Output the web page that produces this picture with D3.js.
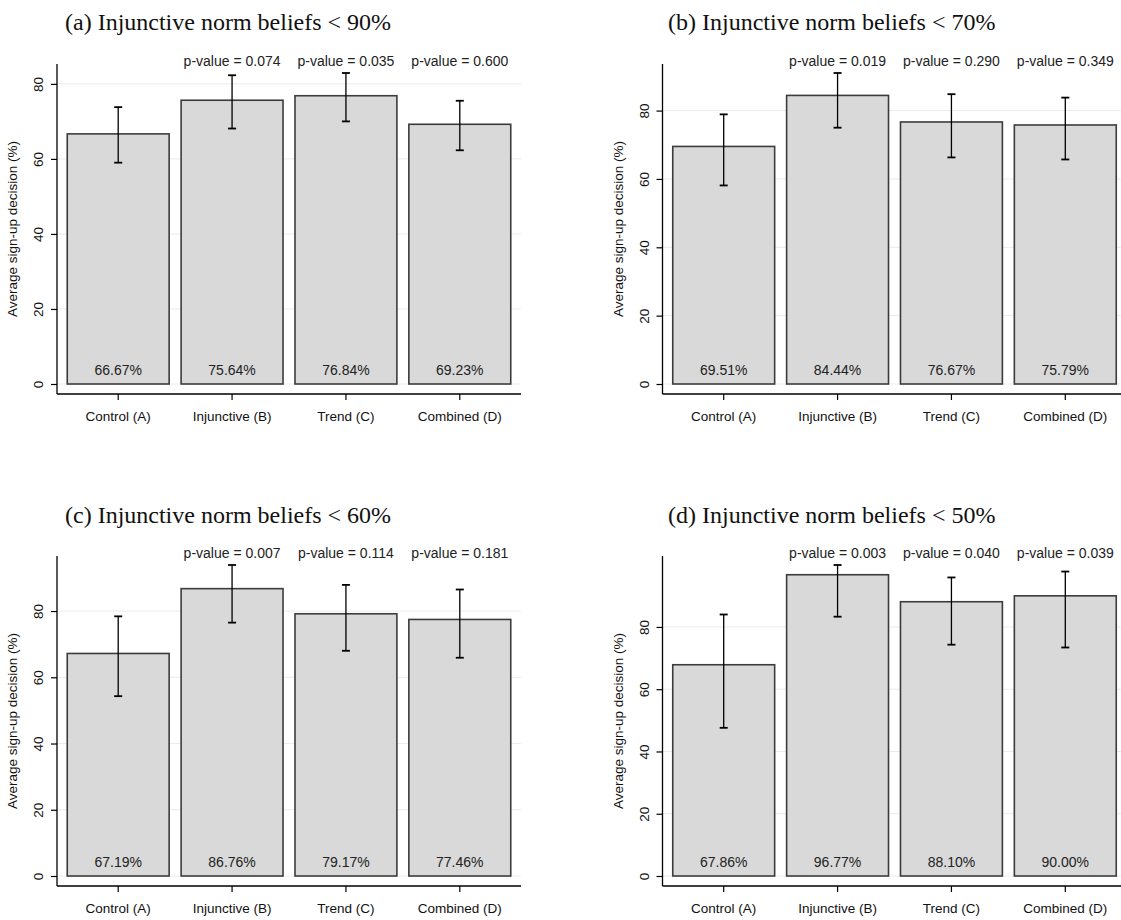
<!DOCTYPE html>
<html><head><meta charset="utf-8">
<script src="https://cdn.jsdelivr.net/npm/d3@7"></script>
<style>body{margin:0;background:#fff}svg{display:block}</style>
</head><body>
<svg id="chart" width="1121" height="920"></svg>
<script>
// ---- data ----
const categories = ["Control (A)", "Injunctive (B)", "Trend (C)", "Combined (D)"];
const panelTitles = [
  "(a) Injunctive norm beliefs < 90%",
  "(b) Injunctive norm beliefs < 70%",
  "(c) Injunctive norm beliefs < 60%",
  "(d) Injunctive norm beliefs < 50%"
];
const yTicks = [0, 20, 40, 60, 80];
const yTitle = "Average sign-up decision (%)";

const meansA = [66.67, 75.64, 76.84, 69.23];
const lowA   = [59.0, 68.1, 70.0, 62.3];
const highA  = [73.8, 82.3, 82.9, 75.5];
const pvalsA = [null, "0.074", "0.035", "0.600"];

const meansB = [69.51, 84.44, 76.67, 75.79];
const lowB   = [58.1, 75.0, 66.3, 65.7];
const highB  = [78.9, 91.0, 84.8, 83.8];
const pvalsB = [null, "0.019", "0.290", "0.349"];

const meansC = [67.19, 86.76, 79.17, 77.46];
const lowC   = [54.3, 76.5, 68.0, 65.9];
const highC  = [78.4, 93.9, 87.9, 86.5];
const pvalsC = [null, "0.007", "0.114", "0.181"];

const meansD = [67.86, 96.77, 88.10, 90.00];
const lowD   = [47.6, 83.3, 74.3, 73.4];
const highD  = [84.0, 99.9, 95.9, 97.8];
const pvalsD = [null, "0.003", "0.040", "0.039"];

// ---- layout ----
const panels = [
  {means: meansA, low: lowA, high: highA, pvals: pvalsA, title: panelTitles[0], x0: 57,    zeroY: 384, titleX: 65,  titleY: 30},
  {means: meansB, low: lowB, high: highB, pvals: pvalsB, title: panelTitles[1], x0: 662.5, zeroY: 384, titleX: 668, titleY: 30},
  {means: meansC, low: lowC, high: highC, pvals: pvalsC, title: panelTitles[2], x0: 57,    zeroY: 876, titleX: 65,  titleY: 523},
  {means: meansD, low: lowD, high: highD, pvals: pvalsD, title: panelTitles[3], x0: 662.5, zeroY: 876, titleX: 668, titleY: 523}
];
const plotW = 464, dataH = 311, topPad = 9, botPad = 10;
const sans = "'Liberation Sans', Arial, Helvetica, sans-serif";
const serif = "'Liberation Serif', 'Times New Roman', serif";

const svg = d3.select("#chart");

panels.forEach(p => {
  const g = svg.append("g");
  const maxHi = d3.max(p.high);
  const y = d3.scaleLinear().domain([0, maxHi]).range([p.zeroY, p.zeroY - dataH]);
  const x = d3.scaleBand().domain(categories).range([p.x0, p.x0 + plotW])
              .paddingInner(0.105).paddingOuter(0.09);
  const plotTop = p.zeroY - dataH - topPad;
  const axisY = p.zeroY + botPad;
  const rows = categories.map((c, i) => ({c, m: p.means[i], lo: p.low[i], hi: p.high[i], pv: p.pvals[i]}));

  // title
  g.append("text").attr("x", p.titleX).attr("y", p.titleY)
    .attr("font-family", serif).attr("font-size", 24).attr("fill", "#111")
    .text(p.title);

  // gridlines
  g.selectAll("line.grid").data(yTicks).join("line")
    .attr("x1", p.x0).attr("x2", p.x0 + plotW)
    .attr("y1", d => y(d)).attr("y2", d => y(d))
    .attr("stroke", "#ebebeb").attr("stroke-width", 1);

  // bars
  g.selectAll("rect.bar").data(rows).join("rect")
    .attr("x", d => x(d.c)).attr("width", x.bandwidth())
    .attr("y", d => y(d.m)).attr("height", d => y(0) - y(d.m))
    .attr("fill", "#d9d9d9").attr("stroke", "#3c3c3c").attr("stroke-width", 1.6);

  // error bars
  const cx = d => x(d.c) + x.bandwidth() / 2;
  g.selectAll("line.err").data(rows).join("line")
    .attr("x1", cx).attr("x2", cx).attr("y1", d => y(d.lo)).attr("y2", d => y(d.hi))
    .attr("stroke", "#000").attr("stroke-width", 1.3);
  ["lo", "hi"].forEach(k => {
    g.selectAll("line.cap" + k).data(rows).join("line")
      .attr("x1", d => cx(d) - 4).attr("x2", d => cx(d) + 4)
      .attr("y1", d => y(d[k])).attr("y2", d => y(d[k]))
      .attr("stroke", "#000").attr("stroke-width", 1.8);
  });

  // value labels
  g.selectAll("text.val").data(rows).join("text")
    .attr("x", cx).attr("y", p.zeroY - 9).attr("text-anchor", "middle")
    .attr("font-family", sans).attr("font-size", 14).attr("fill", "#222")
    .text(d => d.m.toFixed(2) + "%");

  // p-values
  g.selectAll("text.pv").data(rows.filter(d => d.pv)).join("text")
    .attr("x", cx).attr("y", plotTop + 2).attr("text-anchor", "middle")
    .attr("font-family", sans).attr("font-size", 14).attr("fill", "#222")
    .text(d => "p-value = " + d.pv);

  // y axis
  const ya = g.append("g").attr("transform", `translate(${p.x0},0)`)
    .call(d3.axisLeft(y).tickValues(yTicks).tickSize(6).tickFormat(d3.format("d")));
  ya.select(".domain").remove();
  ya.selectAll(".tick line").attr("stroke", "#000").attr("stroke-width", 1.2);
  ya.selectAll(".tick text")
    .attr("font-family", sans).attr("font-size", 13.5).attr("fill", "#111")
    .attr("x", null).attr("dy", null)
    .attr("text-anchor", "middle")
    .attr("transform", "translate(-14,0) rotate(-90)")
    .attr("y", 0).attr("dy", "0em");
  g.append("line").attr("x1", p.x0).attr("x2", p.x0).attr("y1", plotTop).attr("y2", axisY)
    .attr("stroke", "#000").attr("stroke-width", 1.3);

  // x axis
  const xa = g.append("g").attr("transform", `translate(0,${axisY})`)
    .call(d3.axisBottom(x).tickSize(6).tickSizeOuter(0));
  xa.select(".domain").remove();
  xa.selectAll(".tick line").attr("stroke", "#000").attr("stroke-width", 1.2);
  xa.selectAll(".tick text").attr("font-family", sans).attr("font-size", 13.5).attr("fill", "#111")
    .attr("y", 27).attr("dy", 0);
  g.append("line").attr("x1", p.x0).attr("x2", p.x0 + plotW).attr("y1", axisY).attr("y2", axisY)
    .attr("stroke", "#000").attr("stroke-width", 1.3);

  // y title
  g.append("text")
    .attr("transform", `translate(${p.x0 - 40},${(plotTop + axisY) / 2}) rotate(-90)`)
    .attr("text-anchor", "middle")
    .attr("font-family", sans).attr("font-size", 13.5).attr("fill", "#111")
    .text(yTitle);
});
</script>
</body></html>
